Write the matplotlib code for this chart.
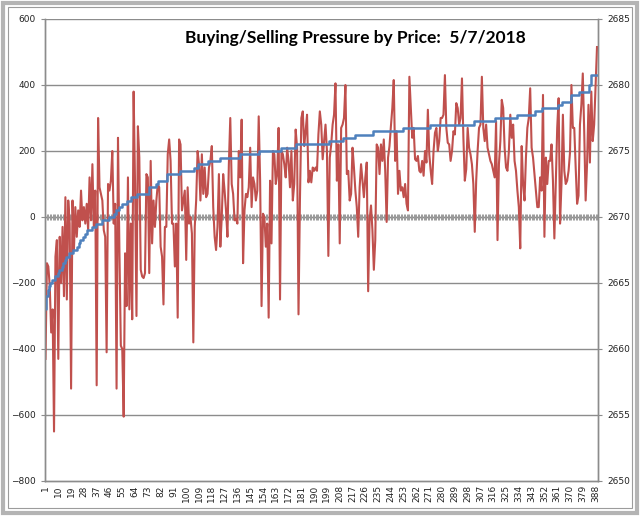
import matplotlib

matplotlib.use("Agg")
import matplotlib.pyplot as plt  # noqa: E402
import numpy as np  # noqa: E402
from matplotlib.patches import Rectangle  # noqa: E402

# Net buying/selling pressure per row (left axis).
pressure = [
    -430, -140, -150, -210, -350, -280, -650, -120, -70, -430,
    -60, -200, -30, -240, 60, -250, 50, -20, -520, 50,
    -100, 30, -60, 20, -30, 80, -10, 30, -20, 40,
    -40, 120, -10, 160, -30, 80, -510, 300, 90, 70,
    50, -40, -60, -410, 100, 80, 110, 200, -20, 40,
    -520, 240, -100, -390, -400, -605, -110, -270, 120, -280,
    -20, -310, 380, 100, -300, 275, 180, -160, -180, -185,
    -170, 130, 120, -170, 170, -80, 50, -30, 50, 100,
    90, -90, -120, -265, -30, -30, 190, 235, 170, -20,
    -20, -150, -20, -305, 235, 220, 20, 50, 80, -130,
    90, -20, 0, -50, -380, -30, 50, 200, 160, 50,
    190, 70, 150, 60, 70, 150, 170, 215, 30, -60,
    -100, -30, 130, -90,
    0, 130, 80, 20, -60, 160, 300, 100, 70, -10,
    -5, -20, 200, 120, 295, -140, 20, 70, 60, 90,
    210, 30, 120, 100, 50, 80, 305, 110, -270, 10,
    0, -90, -20, -305, 110, -80, 200, 190, 100, 130,
    270, -250, 200, 190, 160, 120, 210, 170, 90, 200,
    50, 100, 265, 210, -295, 50, 300, 320, 215, 260,
    310, 105, 140, 105, 150, 140, 150, 140, 250, 320,
    280, 175, 230, 280, 200, -118, 180, 220, 280, 310,
    405, 110, 220, -80, 270, 280, 300, 400, 130, 140,
    50, 70, 210, 150, 80, 30, -60, 90, 160, 110,
    60, 120, 165, -225, -10, 35, -40, -160, -70, 220,
    210, 130, 220, 170, 235, 140, -15, 180, 215, 275,
    330, 415, 170, 260, 70, 140, 80, 90, 60, 100,
    40, 20,
    425, 330, 240, 270, 175, 170, 185, 140, 135, 170,
    125, 200, 165, 325, 190, 140, 100, 200, 255, 270,
    200, 230, 300, 300, 310, 430, 270, 225, 220, 170,
    200, 260, 250, 345, 330, 280, 300, 420, 240, 110,
    145, 270, 210, 190, 160, 100, -45, 110, 200, 270,
    280, 425, 270, 230, 280, 210, 190, 170, 160, 140,
    120, 290, -70, 160, 230, 355, 330, 210, 150, 140,
    200, 310, 240, 280, 170, 140, 80, 30, -95, 215,
    100, 50, 180, 270, 300, 390, 210, 180, 130, 80,
    30, 30, 120, 80, 370, -60, 180, 100, 170, 170,
    220, 110, -65, 100, 270, 360, -20, 100, 310, 140,
    100, 110, 140, 195, 400, 270, 270, 150, 40, 65,
    280, 340, 435, 260, 50, 160, 340, 165, 380, 230,
    280, 400, 515,
]

# Price (right axis) as a step series: each level and how many rows sit on it.
price_levels = [
    2663.00, 2664.00, 2664.50, 2664.75, 2665.00, 2665.25, 2665.50, 2665.75,
    2666.00, 2666.25, 2666.50, 2666.75, 2667.00, 2667.25, 2667.50, 2667.75,
    2668.00, 2668.25, 2668.50, 2668.75, 2669.00, 2669.25, 2669.50, 2669.75,
    2670.00, 2670.25, 2670.50, 2670.75, 2671.00, 2671.25, 2671.50, 2671.75,
    2672.25, 2672.50, 2672.75, 2673.25, 2673.50, 2673.75, 2674.00, 2674.25,
    2674.50, 2674.75, 2675.00, 2675.25, 2675.50, 2675.75, 2676.00, 2676.25,
    2676.50, 2676.75, 2677.00, 2677.25, 2677.50, 2677.75, 2678.00, 2678.25,
    2678.50, 2678.75, 2679.25, 2679.50, 2680.00, 2680.75,
]
price_counts = [
    1, 1, 1, 1, 1, 2, 2, 1,
    2, 1, 1, 1, 2, 3, 3, 1,
    1, 2, 1, 2, 3, 3, 4, 5,
    4, 1, 2, 2, 4, 3, 4, 8,
    5, 2, 6, 9, 10, 3, 7, 8,
    14, 14, 15, 11, 23, 10, 8, 13,
    21, 19, 31, 15, 15, 13, 5, 11,
    3, 6, 6, 7, 1, 5,
]

title = "Buying/Selling Pressure by Price:  5/7/2018"

price = np.repeat(price_levels, price_counts)
n = len(pressure)
idx = np.arange(1, n + 1)

GRID = "#8c8c8c"
RED = "#C0504D"
BLUE = "#4F81BD"
TICKFONT = dict(fontsize=6.5, color="#222222", family="DejaVu Sans")

fig = plt.figure(figsize=(6.4, 5.16), dpi=100)
ax = fig.add_axes([45 / 640, 1 - 481 / 516, (598 - 45) / 640, (481 - 19) / 516])
ax2 = ax.twinx()  # secondary axis is drawn on top, as in the source chart

# left axis: pressure
ax.set_ylim(-800, 600)
ax.set_xlim(0.65, n + 0.7)
ax.set_yticks(np.arange(-800, 601, 200))
for y in np.arange(-600, 601, 200):
    ax.axhline(y, color=GRID, lw=1.0, zorder=0)
# category axis crosses at zero, with a tick mark for every row
ax.axhline(0, color=GRID, lw=1.0, zorder=1)
ax.vlines(idx, -9, 9, color="#9a9a9a", lw=0.7, zorder=1)
ax.plot(idx, pressure, color=RED, lw=1.5, zorder=3)

ax.set_xticks(idx[::9])
ax.set_xticklabels([str(i) for i in idx[::9]], rotation=90, **TICKFONT)
ax.tick_params(axis="x", length=0, pad=3)
ax.tick_params(axis="y", length=3, color=GRID, pad=4)
for lab in ax.get_yticklabels():
    lab.set(**TICKFONT)

# right axis: price
ax2.set_ylim(2650, 2685)
ax2.set_yticks(np.arange(2650, 2686, 5))
ax2.plot(idx, price, color=BLUE, lw=1.8, drawstyle="steps-mid")
ax2.tick_params(axis="y", length=3, color=GRID, pad=4)
for lab in ax2.get_yticklabels():
    lab.set(**TICKFONT)

for a in (ax, ax2):
    for side, sp in a.spines.items():
        sp.set_color(GRID)
        sp.set_linewidth(1.0)
    a.spines["top"].set_visible(False)

ax.text(0.555, 0.926, title, transform=fig.transFigure, ha="center", va="center",
        fontsize=12.5, fontweight="bold", family=["Lato", "DejaVu Sans"], color="black")

# chart frame
fig.patches.append(Rectangle((0.004, 0.005), 0.992, 0.99, transform=fig.transFigure,
                             fill=False, edgecolor="#b4b4b4", lw=3))
fig.patches.append(Rectangle((0.012, 0.016), 0.976, 0.97, transform=fig.transFigure,
                             fill=False, edgecolor="#9c9c9c", lw=0.8))

fig.savefig("out.png", dpi=100)
